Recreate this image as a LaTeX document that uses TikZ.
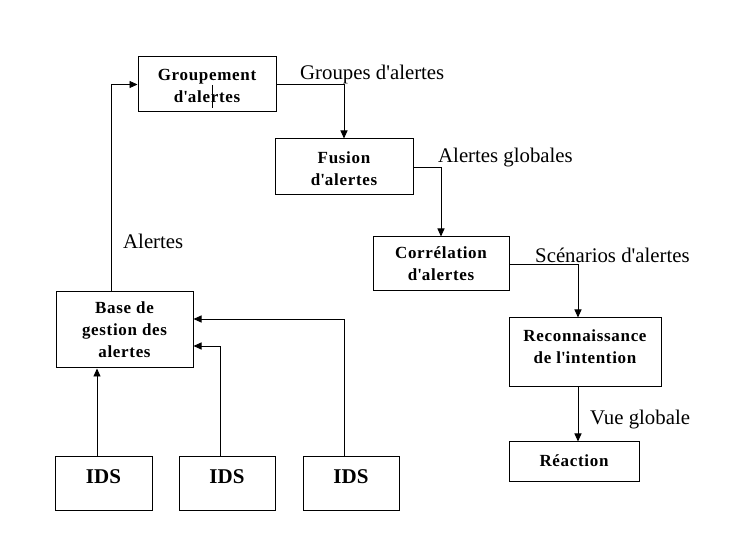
\documentclass[tikz,border=0pt]{standalone}
\usepackage{fontspec}
\setmainfont{Liberation Serif}
\newfontfamily\boxfont[LetterSpace=4]{Liberation Serif}
\usetikzlibrary{arrows.meta}
\tikzset{
  boxn/.style={draw, line width=1pt, rectangle, inner sep=0pt},
  btext/.style={font=\boxfont\bfseries\fontsize{17}{22}\selectfont, align=center, inner sep=0pt},
  idstext/.style={font=\bfseries\fontsize{21}{24}\selectfont, inner sep=0pt},
  lbl/.style={font=\fontsize{20.8}{24}\selectfont, anchor=west, inner sep=0pt},
  conn/.style={line width=0.9pt, -{Triangle[length=8pt,width=7pt]}},
}
\begin{document}
\begin{tikzpicture}[x=1pt,y=-1pt]
\useasboundingbox (0,0) rectangle (756,534);
% boxes
\node[boxn, minimum width=138pt, minimum height=55pt] (grp) at (207,84.5) {};
\node[btext] at (207,85.5) {Groupement\\d\textquotesingle alertes};
\node[boxn, minimum width=138pt, minimum height=56pt] (fus) at (344,167) {};
\node[btext] at (344,168.5) {Fusion\\d\textquotesingle alertes};
\node[boxn, minimum width=136pt, minimum height=54pt] (corr) at (441,264) {};
\node[btext] at (441,264) {Corrélation\\d\textquotesingle alertes};
\node[boxn, minimum width=152pt, minimum height=69pt] (reco) at (585,352.5) {};
\node[btext] at (585,347) {Reconnaissance\\de l\textquotesingle intention};
\node[boxn, minimum width=130pt, minimum height=40pt] (rea) at (574,462) {};
\node[btext] at (574,461) {Réaction};
\node[boxn, minimum width=137pt, minimum height=76pt] (base) at (124.5,330) {};
\node[btext] at (124.5,329.5) {Base de\\gestion des\\alertes};
\node[boxn, minimum width=97pt, minimum height=54pt] (ids1) at (103.5,484) {};
\node[idstext] at (103.5,477) {IDS};
\node[boxn, minimum width=96pt, minimum height=54pt] (ids2) at (227,484) {};
\node[idstext] at (227,477) {IDS};
\node[boxn, minimum width=96pt, minimum height=54pt] (ids3) at (351,484) {};
\node[idstext] at (351,477) {IDS};
% labels
\node[lbl] (l1) at (300,75) {Groupes d\textquotesingle alertes};
\node[lbl] (l2) at (438,158) {Alertes globales};
\node[lbl] (l3) at (535,255) {Scénarios d\textquotesingle alertes};
\node[lbl] (l4) at (590,420) {Vue globale};
\node[lbl] (l5) at (123,241) {Alertes};
% cursor mark
\draw[line width=0.8pt] (212,85) -- (212,108);
% connectors
\draw[conn] (grp.east) -| (fus.north);
\draw[conn] (fus.east) -| (corr.north);
\draw[conn] (corr.east) -| ([xshift=-7pt]reco.north);
\draw[conn] ([xshift=-7pt]reco.south) -- ([xshift=-7pt]reco.south |- rea.north);
\draw[conn] ([xshift=-13.5pt]base.north) |- (grp.west);
\draw[conn] ([xshift=-6.5pt]ids1.north) -- ([xshift=-6.5pt]ids1.north |- base.south);
\draw[conn] ([xshift=-7pt]ids2.north) |- ([yshift=-16pt]base.east);
\draw[conn] ([xshift=-7pt]ids3.north) |- ([yshift=11pt]base.east);
\end{tikzpicture}
\end{document}
